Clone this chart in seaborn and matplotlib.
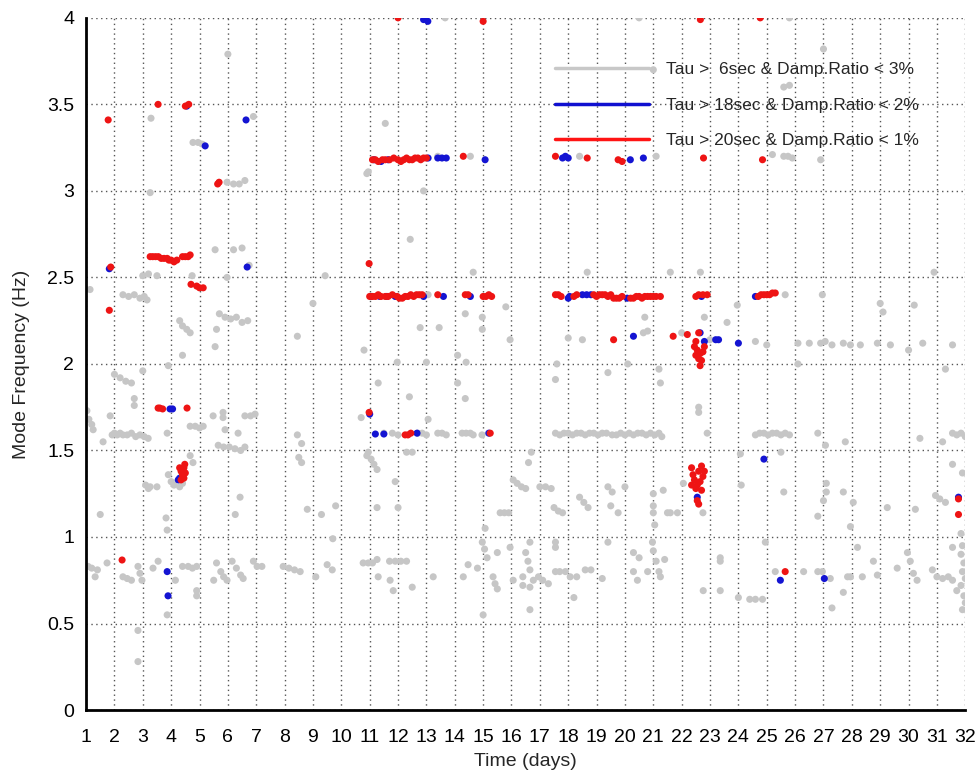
import matplotlib
matplotlib.use("Agg")
import matplotlib.pyplot as plt
from matplotlib.lines import Line2D
import seaborn as sns
import pandas as pd

# ---------------- data ----------------
grey_x = [
    6.0, 3.29, 4.77, 4.95, 5.1, 6.9, 5.97, 6.2, 6.4, 6.6, 10.9, 3.26, 5.55, 6.2, 6.5, 10.95, 11.55, 13.66, 20.5, 25.8,
    13.4, 14.55, 18.4, 12.43, 12.9, 21.0, 25.6, 25.8, 27.0, 25.2, 25.6, 25.75, 25.9, 26.9, 21.1, 6.75,
    3.0, 3.2, 3.5, 4.74, 5.97, 9.43, 14.65, 18.67, 21.6, 22.66, 30.9, 1.14, 2.3, 2.5, 2.7, 2.9, 3.05, 3.15,
    13.06, 25.65, 26.96,
    4.3, 4.4, 4.55, 4.67, 5.6, 5.7, 5.9, 6.1, 6.3, 6.5, 6.7, 5.55, 4.4, 8.45, 9.0, 10.8, 14.37, 15.8, 14.97, 14.97,
    12.78, 13.45, 15.95, 14.1, 11.97, 13.0, 14.4, 18.0, 18.5, 20.7, 20.65, 20.8, 17.6, 19.4, 20.1, 21.2, 23.96,
    29.0, 29.1, 30.2, 22.8, 23.6, 22.0, 23.0, 24.6, 25.0, 26.1, 26.5, 26.9, 27.06, 27.3, 27.7, 27.95, 28.3, 28.9,
    29.36, 30.5, 31.55, 30.0, 26.1, 31.3,
    11.3, 2.0, 2.2, 2.4, 2.6, 3.9, 3.0, 2.7, 2.7, 1.85, 5.83, 5.83, 5.48, 6.6, 6.8, 6.96, 12.4, 14.1, 14.37, 10.7,
    13.06, 17.55, 21.25, 22.6, 22.6, 1.03, 1.1, 1.2, 1.25,
    1.92, 2.0, 2.1, 2.2, 2.3, 2.45, 2.6, 2.75, 2.9, 3.05, 3.19, 3.86, 4.67, 4.85, 5.0, 5.13, 5.9, 6.36, 1.6, 5.66,
    5.85, 6.05, 6.25, 6.45, 6.6, 8.45, 8.6, 11.5, 11.8, 12.0, 12.7, 12.85, 13.0, 13.4, 13.55, 13.7, 14.26, 14.4,
    14.55, 14.65, 14.96, 17.55, 17.7, 17.85, 18.0, 18.15, 18.3, 18.45, 18.6, 18.75, 18.9, 19.05, 19.2, 19.35,
    19.55, 19.7, 19.85, 20.0, 20.15, 20.3, 20.45, 20.6, 20.75, 20.9, 21.05, 21.2, 21.3, 22.9, 24.6, 24.75, 24.9,
    25.05, 25.2, 25.35, 25.5, 25.65, 25.8, 26.8, 31.55, 31.7, 31.85, 32.0,
    8.5, 8.6, 4.67, 4.77, 3.9, 4.0, 4.1, 4.3, 4.4, 3.1, 3.2, 3.26, 3.5, 10.9, 10.95, 11.05, 11.15, 11.26, 12.3,
    12.5, 16.7, 16.6, 11.9, 16.06, 16.2, 16.35, 16.5, 17.0, 17.2, 17.4, 19.4, 19.55, 20.0, 21.35, 27.07, 27.77,
    30.4, 31.2, 25.5, 24.07, 31.55, 31.9, 22.06, 24.1, 25.6, 27.1, 27.1, 27.7, 6.43,
    8.8, 9.3, 9.8, 11.26, 1.5, 12.0, 17.5, 17.65, 17.8, 18.4, 18.55, 18.7, 19.5, 19.76, 15.6, 15.75, 15.9, 21.0,
    21.0, 21.0, 21.05, 27.0, 28.05, 30.95, 31.1, 31.3, 21.6, 21.85, 22.75, 29.25, 30.24, 26.8, 27.95, 3.82, 3.86,
    6.26, 15.07, 21.5,
    20.97, 21.0, 21.1, 21.2, 21.25, 21.4, 23.36, 23.36, 22.76, 23.36, 24.0, 24.4, 24.6, 24.85, 24.95, 25.3, 26.3,
    26.8, 26.96, 27.24, 27.3, 27.7, 27.85, 27.95, 28.2, 28.37, 28.9, 28.76, 29.6, 29.96, 30.06, 30.17, 30.3,
    30.84, 31.0, 31.2, 31.4, 31.55, 31.85, 31.9, 31.85, 31.95, 31.9, 32.0, 31.85, 31.95, 32.0, 31.9, 31.7, 31.55,
    10.77, 10.95, 11.1, 11.26, 11.7, 11.9, 12.1, 12.3, 11.3, 11.72, 11.83, 12.5, 13.24, 14.3, 14.47, 14.8, 14.97,
    15.05, 15.14, 15.0, 15.35, 15.42, 15.5, 15.5, 15.95, 16.06, 16.4, 16.4, 16.65, 16.5, 16.58, 16.65, 16.65,
    16.65, 16.77, 16.95, 17.1, 17.3, 17.55, 17.55, 17.55, 17.7, 17.9, 18.07, 18.3, 18.2, 18.6, 18.8, 19.2, 19.4,
    20.3, 20.5, 20.3, 20.44, 20.8,
    1.07, 1.2, 1.4, 1.32, 1.74, 2.3, 2.45, 2.6, 2.83, 2.9, 2.97, 3.54, 3.36, 2.83, 2.83, 4.15, 3.86, 4.4, 4.6,
    4.75, 4.9, 4.9, 4.9, 5.5, 5.6, 5.75, 5.85, 5.97, 6.15, 6.3, 6.45, 6.54, 6.9, 7.03, 7.2, 7.95, 8.15, 8.35,
    8.55, 9.1, 9.5, 9.68, 9.7,
]
grey_y = [
    3.79, 3.42, 3.28, 3.28, 3.27, 3.43, 3.05, 3.04, 3.04, 3.06, 3.10, 2.99, 2.66, 2.66, 2.67, 3.11, 3.39, 4.0, 4.0, 4.0,
    3.20, 3.20, 3.20, 2.72, 3.00, 3.70, 3.60, 3.61, 3.82, 3.21, 3.20, 3.20, 3.19, 3.18, 3.20, 2.57,
    2.51, 2.52, 2.51, 2.51, 2.50, 2.51, 2.53, 2.53, 2.53, 2.53, 2.53, 2.43, 2.40, 2.39, 2.40, 2.38, 2.39, 2.37,
    2.40, 2.40, 2.40,
    2.25, 2.22, 2.20, 2.18, 2.20, 2.29, 2.27, 2.26, 2.27, 2.24, 2.25, 2.10, 2.05, 2.16, 2.35, 2.08, 2.29, 2.33, 2.27, 2.20,
    2.21, 2.21, 2.14, 2.05, 2.01, 2.01, 2.01, 2.15, 2.14, 2.27, 2.18, 2.19, 2.00, 1.95, 2.00, 1.97, 2.34,
    2.35, 2.30, 2.34, 2.27, 2.24, 2.18, 2.14, 2.13, 2.11, 2.12, 2.12, 2.12, 2.13, 2.11, 2.12, 2.11, 2.11, 2.12,
    2.11, 2.12, 2.11, 2.08, 2.00, 1.97,
    1.89, 1.94, 1.92, 1.90, 1.89, 1.99, 1.96, 1.80, 1.76, 1.70, 1.72, 1.69, 1.70, 1.70, 1.70, 1.71, 1.81, 1.89, 1.80, 1.69,
    1.68, 1.91, 1.89, 1.75, 1.72, 1.73, 1.68, 1.65, 1.62,
    1.59, 1.60, 1.59, 1.60, 1.59, 1.59, 1.60, 1.58, 1.59, 1.58, 1.57, 1.60, 1.64, 1.64, 1.63, 1.64, 1.62, 1.60, 1.55, 1.53,
    1.52, 1.52, 1.51, 1.50, 1.52, 1.59, 1.54, 1.60, 1.60, 1.59, 1.60, 1.60, 1.59, 1.60, 1.60, 1.59, 1.60, 1.60,
    1.60, 1.59, 1.59, 1.60, 1.59, 1.60, 1.60, 1.59, 1.60, 1.60, 1.59, 1.60, 1.60, 1.59, 1.60, 1.60,
    1.59, 1.59, 1.60, 1.59, 1.60, 1.59, 1.60, 1.60, 1.59, 1.60, 1.59, 1.60, 1.58, 1.60, 1.59, 1.60, 1.60,
    1.59, 1.60, 1.60, 1.59, 1.60, 1.59, 1.60, 1.60, 1.59, 1.60, 1.58,
    1.46, 1.43, 1.47, 1.43, 1.36, 1.32, 1.30, 1.29, 1.31, 1.30, 1.28, 1.29, 1.29, 1.47, 1.49, 1.45, 1.42, 1.39, 1.49,
    1.49, 1.49, 1.43, 1.32, 1.33, 1.31, 1.29, 1.28, 1.29, 1.29, 1.28, 1.29, 1.26, 1.29, 1.27, 1.53, 1.55,
    1.57, 1.55, 1.49, 1.48, 1.42, 1.37, 1.31, 1.30, 1.26, 1.31, 1.26, 1.26, 1.23,
    1.16, 1.13, 1.18, 1.17, 1.13, 1.17, 1.17, 1.15, 1.14, 1.23, 1.20, 1.17, 1.18, 1.14, 1.14, 1.14, 1.14, 1.25,
    1.18, 1.14, 1.07, 1.21, 1.20, 1.24, 1.22, 1.20, 1.14, 1.14, 1.14, 1.17, 1.16, 1.12, 1.06, 1.11, 1.04,
    1.13, 1.05, 1.14,
    0.97, 0.92, 0.86, 0.80, 0.77, 0.87, 0.88, 0.86, 0.69, 0.69, 0.65, 0.64, 0.64, 0.64, 0.97, 0.80, 0.80,
    0.80, 0.80, 0.76, 0.59, 0.68, 0.77, 0.77, 0.94, 0.77, 0.78, 0.86, 0.82, 0.91, 0.86, 0.79, 0.75,
    0.81, 0.77, 0.76, 0.77, 0.75, 1.02, 0.95, 0.90, 0.85, 0.80, 0.76, 0.72, 0.66, 0.62, 0.58, 0.69, 0.94,
    0.85, 0.85, 0.85, 0.87, 0.86, 0.86, 0.86, 0.86, 0.77, 0.75, 0.69, 0.71, 0.77, 0.77, 0.84, 0.82, 0.97,
    0.93, 0.88, 0.55, 0.77, 0.73, 0.70, 0.91, 0.94, 0.75, 0.77, 0.72, 0.71, 0.91, 0.86, 0.81, 0.97,
    0.58, 0.75, 0.77, 0.75, 0.73, 0.97, 0.94, 0.80, 0.80, 0.80, 0.77, 0.77, 0.65, 0.81, 0.81, 0.76, 0.97,
    0.91, 0.88, 0.80, 0.75, 0.80,
    0.83, 0.82, 0.81, 0.77, 0.85, 0.77, 0.76, 0.75, 0.83, 0.79, 0.75, 0.86, 0.82, 0.46, 0.28, 0.75, 0.55, 0.83, 0.83,
    0.82, 0.83, 0.69, 0.66, 0.75, 0.85, 0.80, 0.77, 0.75, 0.86, 0.82, 0.78, 0.76, 0.86, 0.83, 0.83, 0.83, 0.82, 0.81,
    0.80, 0.77, 0.84, 0.81, 0.99,
]

blue_x = [
    11.15, 11.4, 11.65, 13.06, 13.4, 13.55, 13.7, 15.07, 17.8, 17.9, 18.0, 20.19, 20.65, 12.9, 13.05, 4.55, 5.2,
    6.64, 6.68, 1.82,
    11.05, 11.35, 11.6, 11.9, 12.9, 13.6, 14.55, 18.0, 18.05, 18.5, 18.65, 18.8, 20.08, 22.7, 24.6,
    20.3, 22.65, 22.8, 23.2, 23.3, 24.0, 3.96, 4.05, 4.25, 4.3, 11.2, 11.5, 12.67, 15.2, 22.55, 31.76,
    25.48, 27.03, 24.9, 3.86, 3.89, 11.0,
]
blue_y = [
    3.18, 3.17, 3.18, 3.19, 3.19, 3.19, 3.19, 3.18, 3.19, 3.20, 3.19, 3.18, 3.19, 3.99, 3.98, 3.49, 3.26,
    3.41, 2.56, 2.55,
    2.39, 2.39, 2.39, 2.39, 2.39, 2.39, 2.39, 2.38, 2.39, 2.40, 2.40, 2.40, 2.38, 2.39, 2.39,
    2.16, 2.18, 2.13, 2.14, 2.14, 2.12, 1.74, 1.74, 1.33, 1.34, 1.595, 1.595, 1.60, 1.60, 1.23, 1.23,
    0.75, 0.76, 1.45, 0.80, 0.66, 1.71,
]

red_x = [
    1.78, 1.82, 2.27, 3.54, 4.5, 4.62, 5.69, 5.64,
    3.26, 3.35, 3.45, 3.55, 3.65, 3.75, 3.86, 3.92, 4.0, 4.1, 4.2, 4.4, 4.5, 4.6, 4.67,
    1.87, 10.98, 4.7, 4.9, 5.0, 5.13,
    11.1, 11.2, 11.3, 11.45, 11.55, 11.7, 11.85, 12.0, 12.1, 12.2, 12.3, 12.4, 12.5, 12.6, 12.7, 12.8, 12.9, 13.0,
    14.3, 12.0, 15.0, 17.55, 18.67, 19.76, 19.9, 22.66, 24.77, 22.77, 24.85,
    11.0, 11.1, 11.2, 11.3, 11.4, 11.55, 11.65, 11.8, 11.97, 12.05, 12.15, 12.25, 12.35, 12.45, 12.55, 12.65,
    12.75, 12.85, 13.4, 14.37, 14.47, 15.0, 15.1, 15.2, 15.3,
    17.55, 17.65, 17.75, 18.2, 18.3, 18.9, 19.0, 19.1, 19.2, 19.3, 19.4, 19.5, 19.6, 19.7, 19.8, 19.9, 20.2, 20.3,
    20.4, 20.5, 20.6, 20.7, 20.8, 20.9, 21.0, 21.1, 21.25, 22.5, 22.6, 22.75, 22.9, 24.7, 24.8, 24.9, 25.0, 25.1,
    25.2, 25.3,
    19.6, 21.7, 22.2, 22.6, 22.5, 22.45, 22.55, 22.65, 22.5, 22.6, 22.7, 22.65, 22.75, 22.8,
    3.54, 3.6, 3.7, 4.56, 10.98,
    4.3, 4.35, 4.4, 4.45, 4.35, 4.5, 4.45, 4.48,
    12.25, 12.35, 12.45, 15.25,
    22.35, 22.4, 22.45, 22.35, 22.5, 22.6, 22.7, 22.75, 22.65, 22.55, 22.8, 22.7, 22.6, 22.55,
    31.76, 31.76, 25.65,
]
red_y = [
    3.41, 2.31, 0.867, 3.50, 3.49, 3.50, 3.05, 3.04,
    2.62, 2.62, 2.62, 2.62, 2.61, 2.61, 2.61, 2.60, 2.60, 2.59, 2.60, 2.62, 2.62, 2.62, 2.63,
    2.56, 2.58, 2.46, 2.45, 2.44, 2.44,
    3.18, 3.18, 3.17, 3.18, 3.18, 3.18, 3.19, 3.18, 3.17, 3.18, 3.19, 3.18, 3.18, 3.19, 3.19, 3.18, 3.19, 3.19,
    3.20, 4.0, 3.98, 3.20, 3.19, 3.18, 3.17, 3.99, 4.0, 3.19, 3.18,
    2.39, 2.39, 2.39, 2.40, 2.39, 2.39, 2.39, 2.40, 2.39, 2.38, 2.38, 2.39, 2.39, 2.40, 2.39, 2.40,
    2.40, 2.40, 2.40, 2.40, 2.40, 2.39, 2.39, 2.40, 2.39,
    2.40, 2.40, 2.39, 2.39, 2.40, 2.40, 2.39, 2.40, 2.40, 2.40, 2.39, 2.40, 2.38, 2.38, 2.38, 2.39, 2.38, 2.38,
    2.39, 2.39, 2.38, 2.39, 2.39, 2.39, 2.39, 2.39, 2.39, 2.39, 2.40, 2.40, 2.40, 2.39, 2.40, 2.40, 2.40, 2.40,
    2.41, 2.41,
    2.14, 2.16, 2.17, 2.18, 2.13, 2.10, 2.08, 2.06, 2.05, 2.03, 2.02, 1.99, 2.07, 2.10,
    1.745, 1.745, 1.74, 1.745, 1.72,
    1.40, 1.38, 1.36, 1.34, 1.33, 1.37, 1.40, 1.42,
    1.59, 1.59, 1.60, 1.60,
    1.40, 1.36, 1.33, 1.30, 1.28, 1.38, 1.41, 1.35, 1.32, 1.30, 1.38, 1.27, 1.19, 1.21,
    1.22, 1.13, 0.80,
]

legend_labels = [
    "Tau >  6sec & Damp.Ratio < 3%",
    "Tau > 18sec & Damp.Ratio < 2%",
    "Tau > 20sec & Damp.Ratio < 1%",
]
x_ticks = list(range(1, 33))
y_ticks = [0, 0.5, 1, 1.5, 2, 2.5, 3, 3.5, 4]
y_ticklabels = ["0", "0.5", "1", "1.5", "2", "2.5", "3", "3.5", "4"]

# ---------------- build frame ----------------
df = pd.concat([
    pd.DataFrame({"t": grey_x, "f": grey_y, "s": "grey"}),
    pd.DataFrame({"t": blue_x, "f": blue_y, "s": "blue"}),
    pd.DataFrame({"t": red_x, "f": red_y, "s": "red"}),
], ignore_index=True)

colors = {"grey": "#c6c6c6", "blue": "#1414d2", "red": "#ee1414"}

sns.set_style("white")
plt.rcParams["font.family"] = ["Liberation Sans", "DejaVu Sans"]

fig = plt.figure(figsize=(9.78, 7.76), dpi=100)
ax = fig.add_axes([0.088, 0.085, 0.899, 0.892])

sns.scatterplot(data=df, x="t", y="f", hue="s", palette=colors, s=26,
                edgecolor="none", linewidth=0, legend=False, ax=ax, zorder=3)

ax.set_xlim(1, 32)
ax.set_ylim(0, 4)
ax.set_xticks(x_ticks)
ax.set_xticklabels([str(v) for v in x_ticks])
ax.set_yticks(y_ticks)
ax.set_yticklabels(y_ticklabels)
ax.grid(True, linestyle=(0, (1, 2.5)), color="#555555", linewidth=1.0)
ax.set_axisbelow(True)

for side in ["top", "right"]:
    ax.spines[side].set_visible(False)
for side in ["left", "bottom"]:
    ax.spines[side].set_linewidth(2.0)
    ax.spines[side].set_color("black")
    ax.spines[side].set_zorder(5)

ax.tick_params(axis="both", direction="inout", length=9, width=1.6,
               labelsize=14, colors="black", pad=4)
ax.tick_params(axis="x", pad=9)
ax.set_xlabel("Time (days)", fontsize=14, labelpad=5)
ax.set_ylabel("Mode Frequency (Hz)", fontsize=14, labelpad=12)

handles = [Line2D([0], [0], color=c, linewidth=2.5) for c in ["#c8c8c8", "#1010d0", "#ff1414"]]
fig.legend(handles, legend_labels, loc="upper left",
           bbox_to_anchor=(555 / 978, 1 - 62 / 776), bbox_transform=fig.transFigure,
           frameon=False, fontsize=12.5, handlelength=5.4, handletextpad=1.0,
           labelspacing=1.17, borderpad=0, borderaxespad=0)

fig.savefig("out.png", dpi=100)
